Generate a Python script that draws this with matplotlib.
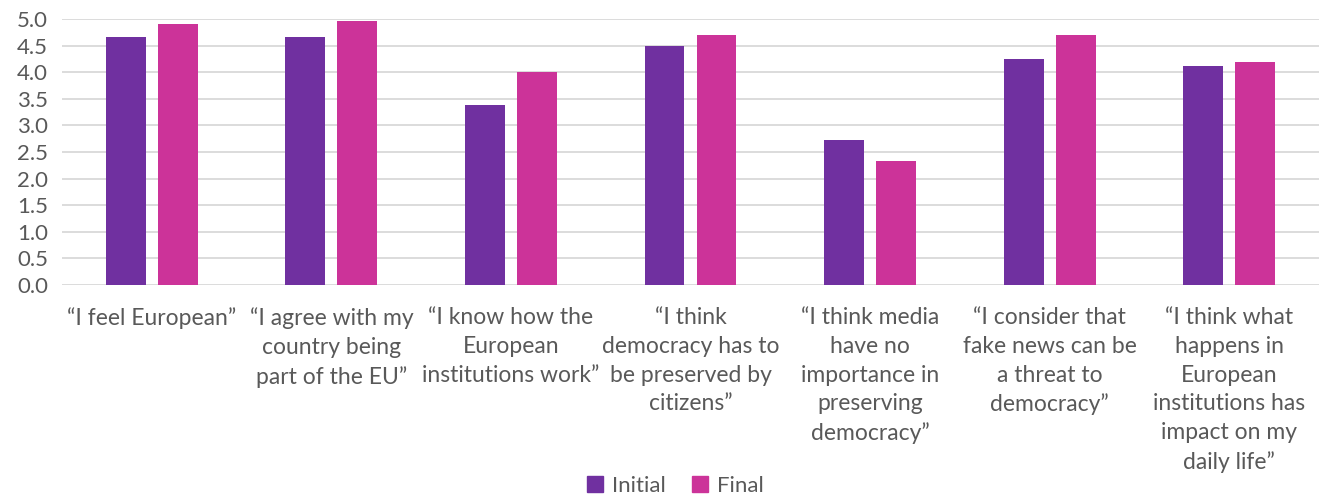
import numpy as np
import matplotlib
matplotlib.use("Agg")
import matplotlib.pyplot as plt
from matplotlib.patches import Patch

plt.rcParams['font.family'] = ['Lato', 'DejaVu Sans']

# survey statements (line breaks as on the axis)
statements = [
    "\u201cI feel European\u201d",
    "\u201cI agree with my\ncountry being\npart of the EU\u201d",
    "\u201cI know how the\nEuropean\ninstitutions work\u201d",
    "\u201cI think\ndemocracy has to\nbe preserved by\ncitizens\u201d",
    "\u201cI think media\nhave no\nimportance in\npreserving\ndemocracy\u201d",
    "\u201cI consider that\nfake news can be\na threat to\ndemocracy\u201d",
    "\u201cI think what\nhappens in\nEuropean\ninstitutions has\nimpact on my\ndaily life\u201d",
]
initial = [4.67, 4.67, 3.38, 4.49, 2.73, 4.24, 4.12]
final = [4.91, 4.96, 4.00, 4.69, 2.33, 4.69, 4.20]

c_initial = '#7030A0'
c_final = '#CC3399'
text_col = '#595959'

fig = plt.figure(figsize=(13.24, 5.01), dpi=100)
ax = fig.add_axes([62 / 1324, 1 - 285 / 501, (1319 - 62) / 1324, (285 - 19) / 501])

x = np.arange(len(statements))
w = 0.222
ax.bar(x - 0.145, initial, w, color=c_initial, zorder=3)
ax.bar(x + 0.145, final, w, color=c_final, zorder=3)

ax.set_xlim(-0.5, len(statements) - 0.5)
ax.set_ylim(0, 5)
ax.set_yticks(np.arange(0, 5.01, 0.5))
ax.set_yticklabels([f"{v:.1f}" for v in np.arange(0, 5.01, 0.5)])
ax.set_xticks(x)
ax.set_xticklabels(statements, linespacing=1.45)
ax.yaxis.grid(True, color='#d9d9d9', linewidth=1.3, zorder=0)
ax.set_axisbelow(True)
for s in ax.spines.values():
    s.set_visible(False)
ax.tick_params(axis='both', length=0, labelcolor=text_col)
ax.tick_params(axis='x', pad=16, labelsize=16.5)
ax.tick_params(axis='y', pad=10, labelsize=16)

handles = [Patch(color=c_initial, label='Initial'), Patch(color=c_final, label='Final')]
fig.legend(handles=handles, loc='lower center', bbox_to_anchor=(0.51, -0.03), ncol=2,
           frameon=False, fontsize=16, labelcolor=text_col, handlelength=0.7,
           handleheight=0.7, handletextpad=0.4, columnspacing=1.2)

fig.savefig('out.png', dpi=100, facecolor='white')
